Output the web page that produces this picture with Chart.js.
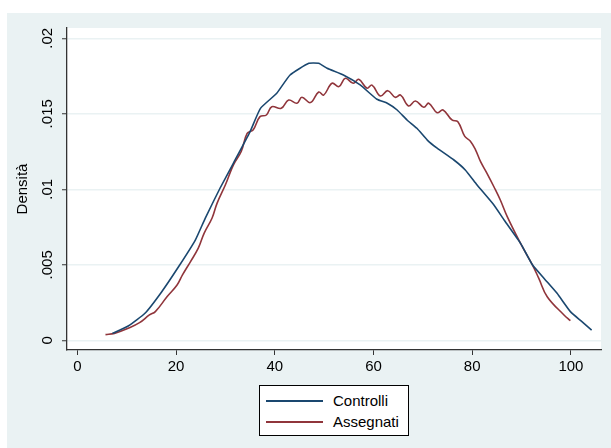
<!DOCTYPE html>
<html>
<head>
<meta charset="utf-8">
<script src="https://cdn.jsdelivr.net/npm/chart.js@4"></script>
<style>
  body { margin: 0; background: #fff; }
  #wrap { position: relative; width: 611px; height: 448px; }
  #legend {
    position: absolute; left: 259px; top: 385px; width: 148px; height: 49px;
    border: 1px solid #000; background: #fff;
    font-family: "Liberation Sans", Arial, sans-serif; font-size: 15px; color: #000;
  }
  .row { position: absolute; left: 0; height: 20px; line-height: 20px; }
  .swatch { position: absolute; left: 6px; width: 57px; top: 9px; height: 0; border-top: 2px solid; }
  .lbl { position: absolute; left: 73px; top: 0; white-space: nowrap; }
</style>
</head>
<body>
<div id="wrap">
  <canvas id="chart" width="611" height="448"></canvas>
  <div id="legend">
    <div class="row" style="top:5px"><span class="swatch" style="border-color:#1a476f"></span><span class="lbl">Controlli</span></div>
    <div class="row" style="top:26px"><span class="swatch" style="border-color:#90353b"></span><span class="lbl">Assegnati</span></div>
  </div>
</div>
<script>
// Density curves
const controlliX = [7.1, 10.3, 13.7, 17.1, 20.5, 23.9, 25.9, 28.9, 31.6, 35, 37.1, 40.4, 43.1, 46.9, 48.9, 50.6, 53.9, 57.3, 60.7, 62.8, 64.8, 66.8, 68.8, 70.9, 72.9, 76.3, 78.6, 81, 84.4, 86.5, 89.8, 92.2, 94.7, 97.2, 99.9, 102, 104.2];
const controlliY = [0.00046, 0.00095, 0.00179, 0.00322, 0.00487, 0.00664, 0.00808, 0.01007, 0.01172, 0.01382, 0.01536, 0.01636, 0.01757, 0.01834, 0.01834, 0.01801, 0.01757, 0.01691, 0.01596, 0.0157, 0.01525, 0.01459, 0.01404, 0.01326, 0.01272, 0.01194, 0.01128, 0.01028, 0.00896, 0.00795, 0.00642, 0.005, 0.00405, 0.00311, 0.0019, 0.0013, 0.00068];

const assegnatiX = [5.7, 7.5, 10.3, 12.6, 14.6, 15.8, 18.2, 20.2, 21.3, 22.9, 24.5, 25.7, 27.3, 28.3, 30, 31.6, 33.2, 34.4, 35.6, 37, 38.3, 39.4, 41.3, 42.8, 44.5, 45.5, 47.2, 48.9, 49.9, 51.6, 53, 54.3, 55.9, 57, 58.7, 59.7, 61.4, 62.9, 64.4, 65.5, 67.1, 68.5, 70.2, 71.2, 72.9, 74.1, 75.9, 77.1, 78.5, 79.6, 80.7, 81.7, 83, 84.4, 85.7, 87.1, 89.8, 92.2, 93.5, 95.2, 98.6, 99.9];
const assegnatiY = [0.00038, 0.00046, 0.0008, 0.00117, 0.00168, 0.0019, 0.0029, 0.00366, 0.00433, 0.0052, 0.0061, 0.0071, 0.0081, 0.00907, 0.0103, 0.0116, 0.0125, 0.0137, 0.01393, 0.01481, 0.01492, 0.01547, 0.01536, 0.01591, 0.0157, 0.01609, 0.01574, 0.01644, 0.01624, 0.01702, 0.0168, 0.01735, 0.01702, 0.01728, 0.01669, 0.0169, 0.01618, 0.01653, 0.01609, 0.01624, 0.01552, 0.01585, 0.01543, 0.0157, 0.01507, 0.01525, 0.01459, 0.01448, 0.0135, 0.0132, 0.0126, 0.01183, 0.01106, 0.01017, 0.00929, 0.00819, 0.00642, 0.005, 0.0041, 0.00289, 0.00168, 0.0013];

const xTicks = [0, 20, 40, 60, 80, 100];
const yTicks = [0, 0.005, 0.01, 0.015, 0.02];

const toPoints = (xs, ys) => xs.map((x, i) => ({ x: x, y: ys[i] }));

// Stata-like backgrounds: outer bluish panel, white plot region
const backgroundPlugin = {
    id: 'stataBackground',
    beforeDraw: (chart) => {
        const { ctx, chartArea } = chart;
        ctx.save();
        ctx.fillStyle = '#ffffff';
        ctx.fillRect(0, 0, chart.width, chart.height);
        ctx.fillStyle = '#eaf2f3';
        ctx.fillRect(7, 13, chart.width - 7, chart.height - 13);
        ctx.fillStyle = '#ffffff';
        ctx.fillRect(chartArea.left, chartArea.top, chartArea.right - chartArea.left, chartArea.bottom - chartArea.top);
        ctx.restore();
    }
};

const fontFamily = '"Liberation Sans", Arial, sans-serif';

new Chart(document.getElementById('chart'), {
    type: 'scatter',
    data: {
        datasets: [
            {
                label: 'Controlli',
                data: toPoints(controlliX, controlliY),
                showLine: true,
                borderColor: '#1a476f',
                borderWidth: 1.6,
                pointRadius: 0,
                tension: 0.15
            },
            {
                label: 'Assegnati',
                data: toPoints(assegnatiX, assegnatiY),
                showLine: true,
                borderColor: '#90353b',
                borderWidth: 1.6,
                pointRadius: 0,
                tension: 0.4
            }
        ]
    },
    options: {
        responsive: false,
        animation: false,
        devicePixelRatio: 1,
        layout: { padding: { left: 0, top: 28, right: 10, bottom: 0 } },
        plugins: {
            legend: { display: false },
            tooltip: { enabled: false }
        },
        scales: {
            x: {
                type: 'linear',
                min: -2.1,
                max: 106.1,
                afterBuildTicks: (scale) => { scale.ticks = xTicks.map(v => ({ value: v })); },
                afterFit: (scale) => { scale.height = 98; },
                grid: { drawOnChartArea: false, color: '#333', tickLength: 5, tickColor: '#333', tickWidth: 1 },
                border: { display: true, color: '#333', width: 1.3 },
                ticks: {
                    color: '#000',
                    padding: 3,
                    maxRotation: 0,
                    font: { family: fontFamily, size: 15 },
                    callback: (v) => String(v)
                }
            },
            y: {
                type: 'linear',
                min: -0.00064,
                max: 0.02068,
                afterBuildTicks: (scale) => { scale.ticks = yTicks.map(v => ({ value: v })); },
                afterFit: (scale) => { scale.width = 67; },
                grid: { color: '#eaf2f3', lineWidth: 1.5, tickLength: 5, tickColor: '#333', tickWidth: 1 },
                border: { display: true, color: '#333', width: 1.3 },
                title: {
                    display: true,
                    text: 'Densità',
                    color: '#000',
                    font: { family: fontFamily, size: 15 },
                    padding: { top: 14, bottom: 0 }
                },
                ticks: {
                    color: '#000',
                    padding: 0,
                    minRotation: 90,
                    maxRotation: 90,
                    crossAlign: 'center',
                    font: { family: fontFamily, size: 15 },
                    callback: (v) => v === 0 ? '0' : String(v).replace(/^0/, '')
                }
            }
        }
    },
    plugins: [backgroundPlugin]
});
</script>
</body>
</html>
